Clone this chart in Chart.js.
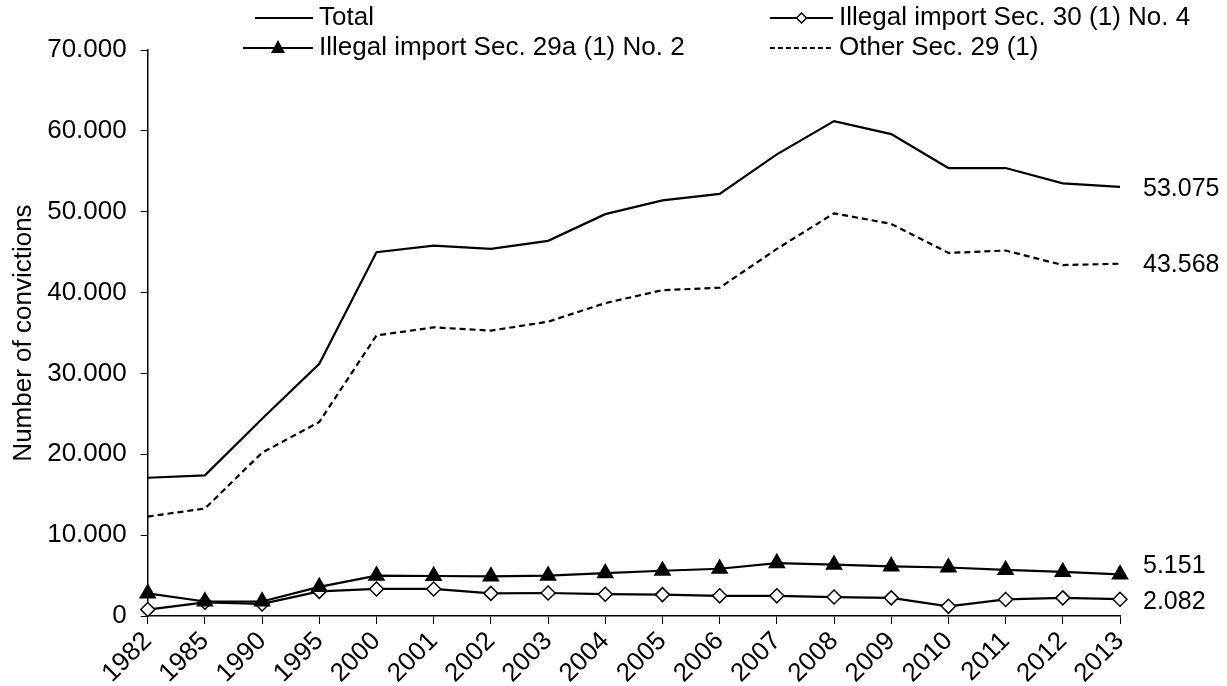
<!DOCTYPE html>
<html>
<head>
<meta charset="utf-8">
<script src="https://cdn.jsdelivr.net/npm/chart.js@4/dist/chart.umd.min.js"></script>
<style>
  html, body { margin: 0; padding: 0; background: #fff; }
  #wrap { width: 1227px; height: 686px; position: relative; }
</style>
</head>
<body>
<div id="wrap"><canvas id="chart"></canvas></div>
<script>
const years = ['1982', '1985', '1990', '1995', '2000', '2001', '2002', '2003', '2004',
    '2005', '2006', '2007', '2008', '2009', '2010', '2011', '2012', '2013'];

const total = [17100, 17400, 24400, 31200, 45000, 45800, 45400, 46400, 49700,
    51400, 52200, 57100, 61200, 59600, 55400, 55400, 53500, 53075];

const otherSec29 = [12300, 13300, 20200, 24000, 34700, 35700, 35300, 36400, 38700,
    40300, 40600, 45400, 49800, 48500, 44900, 45200, 43400, 43568];

const import29a = [2800, 1800, 1800, 3600, 5000, 4950, 4900, 5000, 5300,
    5600, 5850, 6550, 6350, 6150, 6000, 5700, 5450, 5151];

const import30 = [800, 1700, 1500, 3050, 3350, 3350, 2800, 2850, 2700,
    2650, 2500, 2500, 2350, 2250, 1200, 2050, 2250, 2082];

const yTicks = [0, 10000, 20000, 30000, 40000, 50000, 60000, 70000];

const FONT = '"Liberation Sans", Arial, sans-serif';

function fmt(v) {
    return v.toLocaleString('de-DE');
}

// legend drawn at the top in two rows, like the original
const legendPlugin = {
    id: 'topLegend',
    afterDraw(chart) {
        const ctx = chart.ctx;
        ctx.save();
        ctx.font = '26px ' + FONT;
        ctx.fillStyle = '#000';
        ctx.strokeStyle = '#000';
        ctx.textBaseline = 'middle';
        ctx.lineWidth = 2;

        const items = [
            { x1: 255, x2: 313, y: 18, text: 'Total', kind: 'line' },
            { x1: 770, x2: 833, y: 18, text: 'Illegal import Sec. 30 (1) No. 4', kind: 'diamond' },
            { x1: 243, x2: 313, y: 48, text: 'Illegal import Sec. 29a (1) No. 2', kind: 'triangle' },
            { x1: 770, x2: 833, y: 48, text: 'Other Sec. 29 (1)', kind: 'dash' }
        ];
        items.forEach(it => {
            ctx.setLineDash(it.kind === 'dash' ? [5, 3] : []);
            ctx.beginPath();
            ctx.moveTo(it.x1, it.y);
            ctx.lineTo(it.x2, it.y);
            ctx.stroke();
            ctx.setLineDash([]);
            const cx = (it.x1 + it.x2) / 2;
            if (it.kind === 'triangle') {
                ctx.beginPath();
                ctx.moveTo(cx, it.y - 8);
                ctx.lineTo(cx + 7, it.y + 5);
                ctx.lineTo(cx - 7, it.y + 5);
                ctx.closePath();
                ctx.fill();
            } else if (it.kind === 'diamond') {
                ctx.beginPath();
                ctx.moveTo(cx, it.y - 5);
                ctx.lineTo(cx + 5, it.y);
                ctx.lineTo(cx, it.y + 5);
                ctx.lineTo(cx - 5, it.y);
                ctx.closePath();
                ctx.fillStyle = '#fff';
                ctx.fill();
                ctx.lineWidth = 1.5;
                ctx.stroke();
                ctx.lineWidth = 2;
                ctx.fillStyle = '#000';
            }
            ctx.fillText(it.text, it.x2 + 6, it.y);
        });
        ctx.restore();
    }
};

// value labels at the right end of each line
const endLabelPlugin = {
    id: 'endLabels',
    afterDatasetsDraw(chart) {
        const ctx = chart.ctx;
        const y = chart.scales.y;
        const x = chart.chartArea.right + 23;
        ctx.save();
        ctx.font = '25px ' + FONT;
        ctx.fillStyle = '#000';
        ctx.textBaseline = 'middle';
        chart.data.datasets.forEach(ds => {
            const last = ds.data[ds.data.length - 1];
            ctx.fillText(fmt(last), x, y.getPixelForValue(last) + ds.labelShift);
        });
        ctx.restore();
    }
};

new Chart(document.getElementById('chart'), {
    type: 'line',
    data: {
        labels: years,
        datasets: [
            {
                label: 'Total',
                data: total,
                borderColor: '#000',
                borderWidth: 2.2,
                pointRadius: 0,
                tension: 0,
                labelShift: 2
            },
            {
                label: 'Other Sec. 29 (1)',
                data: otherSec29,
                borderColor: '#000',
                borderWidth: 2.2,
                borderDash: [6, 4],
                pointRadius: 0,
                tension: 0,
                labelShift: 1
            },
            {
                label: 'Illegal import Sec. 29a (1) No. 2',
                data: import29a,
                borderColor: '#000',
                borderWidth: 2.2,
                pointStyle: 'triangle',
                pointRadius: 8,
                pointBackgroundColor: '#000',
                pointBorderColor: '#000',
                tension: 0,
                labelShift: -8
            },
            {
                label: 'Illegal import Sec. 30 (1) No. 4',
                data: import30,
                borderColor: '#000',
                borderWidth: 2.2,
                pointStyle: 'rectRot',
                pointRadius: 7,
                pointBorderWidth: 1.5,
                pointBackgroundColor: '#fff',
                pointBorderColor: '#000',
                tension: 0,
                labelShift: 3
            }
        ]
    },
    options: {
        responsive: true,
        maintainAspectRatio: false,
        animation: false,
        layout: {
            padding: { top: 50, right: 107, left: 8, bottom: -5 }
        },
        plugins: {
            legend: { display: false },
            tooltip: { enabled: false }
        },
        scales: {
            x: {
                offset: false,
                grid: {
                    drawOnChartArea: false,
                    drawTicks: true,
                    tickLength: 8,
                    color: '#000'
                },
                border: { color: '#000', width: 1.5 },
                ticks: {
                    color: '#000',
                    font: { family: FONT, size: 26 },
                    maxRotation: 45,
                    minRotation: 45,
                    autoSkip: false,
                    padding: 2
                }
            },
            y: {
                min: 0,
                max: 70000,
                afterBuildTicks(axis) {
                    axis.ticks = yTicks.map(v => ({ value: v }));
                },
                grid: {
                    drawOnChartArea: false,
                    drawTicks: true,
                    tickLength: 7,
                    color: '#000'
                },
                border: { color: '#000', width: 1.5 },
                ticks: {
                    color: '#000',
                    font: { family: FONT, size: 26 },
                    padding: 14,
                    callback: v => fmt(v)
                },
                title: {
                    display: true,
                    text: 'Number of convictions',
                    color: '#000',
                    font: { family: FONT, size: 26 },
                    padding: { top: 0, bottom: -6 }
                }
            }
        }
    },
    plugins: [legendPlugin, endLabelPlugin]
});
</script>
</body>
</html>
